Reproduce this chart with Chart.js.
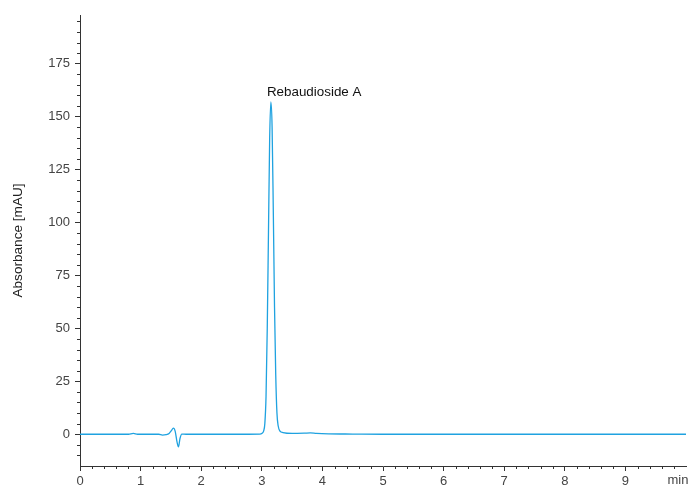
<!DOCTYPE html>
<html>
<head>
<meta charset="utf-8">
<script src="https://cdn.jsdelivr.net/npm/chart.js@4"></script>
<style>
	html, body { margin: 0; padding: 0; background: #fff; }
	#wrap { width: 691px; height: 486px; }
</style>
</head>
<body>
<div id="wrap"><canvas id="chromChart" width="691" height="486"></canvas></div>
<script>
// Retention time (min) and absorbance (mAU)
const times = [0, 0.5, 0.8, 0.88, 0.95, 1.2, 1.3, 1.36, 1.42, 1.47, 1.51, 1.54, 1.57, 1.6, 1.625, 1.65, 1.68, 1.75, 2.0, 2.5, 2.97,
	3.0, 3.03, 3.05, 3.07, 3.09, 3.11, 3.13, 3.15, 3.17, 3.19, 3.21, 3.23, 3.25, 3.27, 3.3, 3.35, 3.5, 3.7, 3.8, 3.9, 4.1, 4.5,
	5, 6, 6.5, 7, 7.5, 8, 8.5, 9, 9.5, 10];
const absorbance = [0, 0, 0, 0.4, 0, 0, 0, -0.4, -0.2, 0.4, 1.8, 2.9, 1.5, -3.5, -6.0, -2.0, 0.1, 0, 0, 0, 0.1,
	0.4, 1.5, 5, 18, 50, 95, 140, 157, 145, 105, 60, 28, 10, 4, 1.5, 0.8, 0.4, 0.5, 0.6, 0.4, 0.2, 0.1,
	0, 0, 0, 0, 0, 0, 0, 0, 0, 0];

const peakLabel = 'Rebaudioside A';
const peakTime = 3.15;
const peakValue = 157;

const xTicks = [0, 1, 2, 3, 4, 5, 6, 7, 8, 9];
const yTicks = [0, 25, 50, 75, 100, 125, 150, 175];
const xUnit = 'min';

const axisColor = '#333';
const lineColor = '#1fa2e0';
const fontFamily = '"Liberation Sans", Arial, sans-serif';

// Minor ticks, peak name and the unit label
const extrasPlugin = {
	id: 'extras',
	afterDraw(chart) {
		const ctx = chart.ctx;
		const xs = chart.scales.x, ys = chart.scales.y;
		ctx.save();
		ctx.strokeStyle = axisColor;
		ctx.lineWidth = 1;
		ctx.beginPath();
		for (let i = 1; i <= 50; i++) {
			if (i % 5 === 0) continue;
			const px = Math.round(xs.getPixelForValue(i * 0.2)) + 0.5;
			ctx.moveTo(px, xs.top);
			ctx.lineTo(px, xs.top + 3);
		}
		for (let v = -10; v <= 195; v += 5) {
			if (v % 25 === 0) continue;
			const py = Math.round(ys.getPixelForValue(v)) + 0.5;
			ctx.moveTo(ys.right, py);
			ctx.lineTo(ys.right - 3, py);
		}
		ctx.stroke();

		ctx.fillStyle = '#111';
		ctx.font = '13.4px ' + fontFamily;
		ctx.textAlign = 'left';
		ctx.textBaseline = 'bottom';
		ctx.fillText(peakLabel, xs.getPixelForValue(peakTime) - 4, ys.getPixelForValue(peakValue) - 3);

		ctx.fillStyle = '#444';
		ctx.font = '13px ' + fontFamily;
		ctx.textAlign = 'center';
		ctx.textBaseline = 'top';
		ctx.fillText(xUnit, xs.getPixelForValue(10) - 8, xs.top + 8);
		ctx.restore();
	}
};

new Chart(document.getElementById('chromChart'), {
	type: 'line',
	data: {
		datasets: [{
			data: times.map((t, i) => ({ x: t, y: absorbance[i] })),
			borderColor: lineColor,
			borderWidth: 1.3,
			pointRadius: 0,
			fill: false,
			cubicInterpolationMode: 'monotone'
		}]
	},
	options: {
		responsive: false,
		animation: false,
		layout: { padding: { top: 15, right: 5, left: 0, bottom: 0 } },
		plugins: {
			legend: { display: false },
			tooltip: { enabled: false }
		},
		scales: {
			x: {
				type: 'linear',
				min: 0,
				max: 10,
				afterBuildTicks: s => { s.ticks = xTicks.map(v => ({ value: v })); },
				afterFit: s => { s.height = 20; s.paddingLeft = 0; s.paddingRight = 0; },
				border: { color: axisColor, width: 1 },
				grid: { drawOnChartArea: false, drawTicks: true, tickLength: 5, color: axisColor },
				ticks: {
					autoSkip: false,
					maxRotation: 0,
					padding: 3,
					color: '#444',
					font: { family: fontFamily, size: 13 }
				}
			},
			y: {
				min: -15,
				max: 198,
				afterBuildTicks: s => { s.ticks = yTicks.map(v => ({ value: v })); },
				afterFit: s => { s.width = 80; },
				border: { color: axisColor, width: 1 },
				grid: { drawOnChartArea: false, drawTicks: true, tickLength: 5, color: axisColor },
				title: {
					display: true,
					text: 'Absorbance [mAU]',
					color: '#222',
					padding: { top: 10, bottom: 0 },
					font: { family: fontFamily, size: 13.6 }
				},
				ticks: {
					padding: 5,
					color: '#444',
					font: { family: fontFamily, size: 13 }
				}
			}
		}
	},
	plugins: [extrasPlugin]
});
</script>
</body>
</html>
